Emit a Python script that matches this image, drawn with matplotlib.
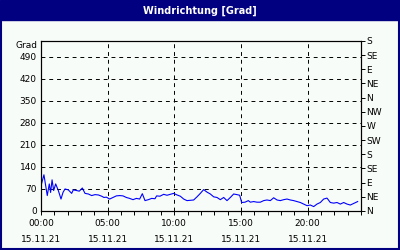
import matplotlib.pyplot as plt
from matplotlib.ticker import FixedLocator, MultipleLocator

NAVY = "#000080"
BG = "#f8fcf8"
LINE = "#0000ff"

# hours since 00:00 on 15.11.21, wind direction in degrees
hours = [0.0, 0.22, 0.47, 0.62, 0.72, 0.83, 0.95, 1.1, 1.3, 1.5, 1.65, 1.8,
         2.05, 2.3, 2.42, 2.67, 2.87, 3.1, 3.3, 3.55, 3.8, 4.05, 4.3, 4.55,
         4.72, 4.9, 5.15, 5.4, 5.65, 5.9, 6.15, 6.4, 6.65, 6.9, 7.15, 7.4,
         7.6, 7.8, 8.05, 8.3, 8.55, 8.67, 8.92, 9.2, 9.45, 9.7, 9.95, 10.2,
         10.45, 10.7, 10.95, 11.2, 11.45, 11.7, 11.95, 12.2, 12.45, 12.7,
         12.95, 13.2, 13.45, 13.7, 13.95, 14.2, 14.45, 14.7, 14.9, 15.05,
         15.3, 15.55, 15.7, 15.95, 16.2, 16.45, 16.7, 16.95, 17.2, 17.45,
         17.7, 17.95, 18.2, 18.45, 18.7, 18.95, 19.2, 19.45, 19.7, 19.95,
         20.2, 20.45, 20.7, 20.95, 21.2, 21.45, 21.7, 21.95, 22.2, 22.45,
         22.7, 22.95, 23.2, 23.45, 23.75]
grad = [80, 115, 49, 86, 59, 99, 65, 86, 65, 38, 59, 70,
        67, 56, 67, 65, 63, 73, 56, 54, 49, 52, 51, 47,
        43, 44, 38, 43, 48, 49, 48, 43, 40, 36, 40, 38,
        55, 33, 36, 40, 39, 48, 47, 53, 50, 53, 56, 51,
        47, 38, 33, 34, 35, 45, 56, 68, 60, 54,
        45, 43, 36, 43, 33, 43, 54, 52, 50, 27,
        28, 33, 28, 30, 28, 28, 33, 35, 33, 42,
        35, 33, 36, 38, 35, 33, 30, 27, 22, 17,
        19, 14, 22, 27, 38, 41, 27, 25, 27, 22,
        27, 22, 19, 24, 30]

left_ticks = [0, 70, 140, 210, 280, 350, 420, 490]
right_ticks = [0, 45, 90, 135, 180, 225, 270, 315, 360, 405, 450, 495, 540]
right_labels = ["N", "NE", "E", "SE", "S", "SW", "W", "NW",
                "N", "NE", "E", "SE", "S"]
x_ticks = [0, 5, 10, 15, 20]
x_labels = ["00:00\n15.11.21", "05:00\n15.11.21", "10:00\n15.11.21",
            "15:00\n15.11.21", "20:00\n15.11.21"]

plt.rcParams["font.family"] = "DejaVu Sans"
plt.rcParams["font.size"] = 6.5

fig = plt.figure(figsize=(4, 2.5), dpi=100)
fig.patch.set_facecolor(BG)

# title bar and frame
fig.patches.append(plt.Rectangle((0, 0.92), 1, 0.08, transform=fig.transFigure,
                                 color=NAVY, zorder=0))
fig.patches.append(plt.Rectangle((0.002, 0.004), 0.996, 0.99, transform=fig.transFigure,
                                 fill=False, edgecolor=NAVY, linewidth=1.5, zorder=1))
fig.text(0.5, 0.958, "Windrichtung [Grad]", color="white", fontweight="bold",
         fontsize=7, ha="center", va="center")

ax = fig.add_axes([0.1025, 0.156, 0.8, 0.68])
ax.set_facecolor(BG)
ax.plot(hours, grad, color=LINE, linewidth=0.8)

ax.set_xlim(0, 24)
ax.set_ylim(0, 540)

ax.yaxis.set_major_locator(FixedLocator(left_ticks))
ax.set_yticklabels([str(t) for t in left_ticks])
ax.xaxis.set_major_locator(FixedLocator(x_ticks))
ax.xaxis.set_minor_locator(MultipleLocator(1))
ax.set_xticklabels(x_labels, linespacing=2.0)

ax.tick_params(axis="y", length=0, pad=3)
ax.tick_params(axis="x", which="both", direction="out", length=3, width=0.7, pad=3)

ax.grid(True, which="major", color="black", linestyle=(0, (4, 4)), linewidth=0.7)

for s in ax.spines.values():
    s.set_linewidth(0.8)
    s.set_color("black")

ax2 = ax.twinx()
ax2.set_ylim(0, 540)
ax2.yaxis.set_major_locator(FixedLocator(right_ticks))
ax2.set_yticklabels(right_labels)
ax2.tick_params(axis="y", direction="out", length=3, width=0.7, pad=1)

ax.text(-0.012, 525, "Grad", transform=ax.get_yaxis_transform(),
        ha="right", va="center")

fig.savefig("out.png", dpi=100, facecolor=BG)
